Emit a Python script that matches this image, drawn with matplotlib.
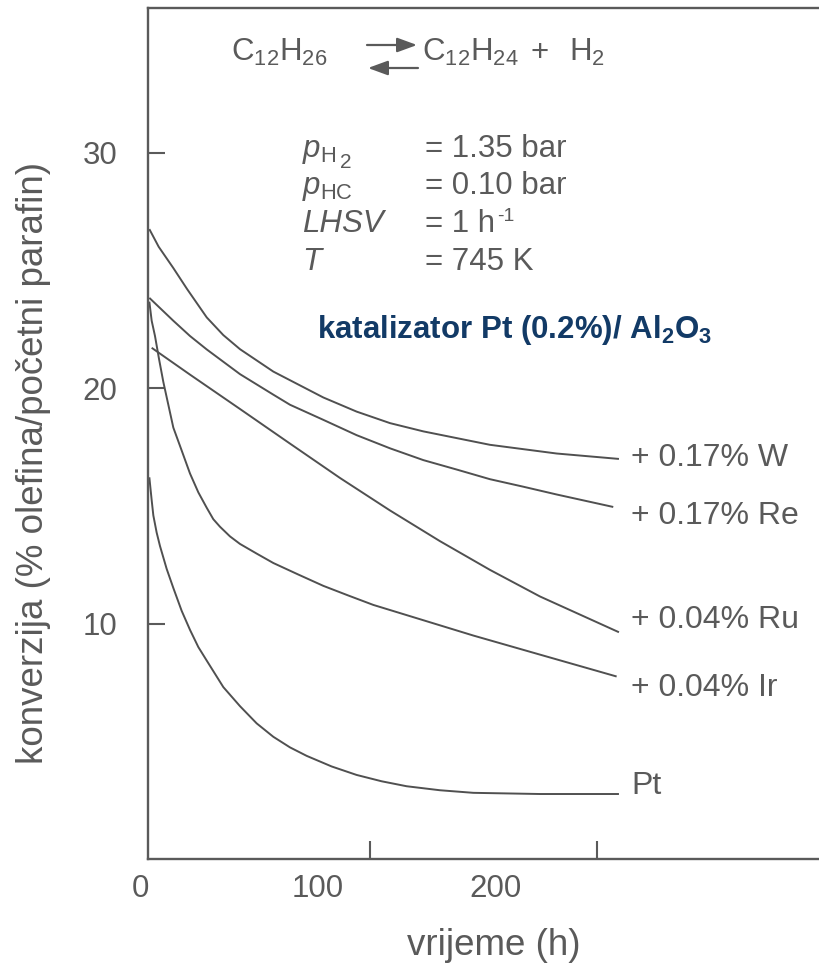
import matplotlib
matplotlib.use("Agg")
import matplotlib.pyplot as plt
from matplotlib.transforms import ScaledTranslation
from matplotlib.ticker import FixedLocator

plt.rcParams['font.family'] = ['Liberation Sans', 'DejaVu Sans']
plt.rcParams['mathtext.fontset'] = 'custom'
plt.rcParams['mathtext.rm'] = 'Liberation Sans'
plt.rcParams['mathtext.it'] = 'Liberation Sans:italic'
plt.rcParams['mathtext.bf'] = 'Liberation Sans:bold'

# ---------------- data (time in h, conversion in %) ----------------
t_W = [0.75, 6.0, 14.2, 22.0, 33.0, 42.3, 51.7, 70.4, 98.5, 117.2, 136, 154.7, 192.1, 229.6, 264.6]
y_W = [26.75, 26.0, 25.1, 24.2, 23.0, 22.25, 21.65, 20.7, 19.6, 19.0, 18.51, 18.16, 17.59, 17.22, 16.99]

t_Re = [0.75, 14.2, 23.6, 33, 51.7, 70.4, 79.8, 98.5, 117.2, 136, 154.7, 173.4, 192.1, 210.9, 229.6, 261.4]
y_Re = [23.83, 22.86, 22.21, 21.64, 20.59, 19.72, 19.29, 18.65, 18.0, 17.44, 16.94, 16.54, 16.13, 15.81, 15.48, 14.95]

t_Ru = [2.06, 23.6, 51.7, 79.8, 107.9, 136, 164, 192.1, 220.2, 264.6]
y_Ru = [21.71, 20.57, 19.11, 17.64, 16.18, 14.8, 13.5, 12.28, 11.15, 9.63]

t_Ir = [0.75, 2.06, 3.93, 6.18, 8.61, 11.42, 14.23, 18.91, 23.6, 28.28, 32.96, 36.7, 40.45,
        46.07, 51.69, 61.05, 70.41, 84.46, 98.5, 112.55, 126.6, 154.7, 182.77, 220.2, 263.3]
y_Ir = [23.67, 22.86, 22.21, 21.24, 20.26, 19.29, 18.32, 17.35, 16.37, 15.57, 14.92, 14.43, 14.11,
        13.7, 13.38, 12.97, 12.57, 12.08, 11.6, 11.19, 10.79, 10.14, 9.49, 8.68, 7.75]

t_Pt = [0.75, 2.06, 3.0, 4.87, 6.74, 10.49, 14.23, 18.91, 23.6, 28.28, 32.96, 42.32, 51.69,
        61.05, 70.41, 79.78, 89.14, 103.18, 117.2, 131.3, 145.3, 164.0, 182.8, 220.2, 264.6]
y_Pt = [16.21, 15.24, 14.59, 13.86, 13.29, 12.32, 11.51, 10.54, 9.73, 9.0, 8.43, 7.3, 6.49,
        5.76, 5.19, 4.74, 4.38, 3.93, 3.57, 3.3, 3.09, 2.92, 2.81, 2.76, 2.76]

series_labels = ['+ 0.17% W', '+ 0.17% Re', '+ 0.04% Ru', '+ 0.04% Ir', 'Pt']
x_ticks = [0, 100, 200]
x_ticklabels = ['0', '100', '200']
x_marks = [125, 252]
y_ticks = [10, 20, 30]
y_ticklabels = ['10', '20', '30']

GRAY = '#5a5a5a'
LINE = '#505050'
BLUE = '#123a66'

W, H = 819, 965
fig = plt.figure(figsize=(W / 100, H / 100), dpi=100)
ax = fig.add_axes([148 / W, 1 - 859 / H, (W - 148) / W, (859 - 8) / H])


def P(px, py):
    return (px / W, 1 - py / H)


for t, y in [(t_W, y_W), (t_Re, y_Re), (t_Ru, y_Ru), (t_Ir, y_Ir), (t_Pt, y_Pt)]:
    ax.plot(t, y, color=LINE, lw=1.4, solid_capstyle='butt', solid_joinstyle='round')

ax.set_xlim(0, 377)
ax.set_ylim(0, 36.14)

for s in ['left', 'bottom', 'top']:
    ax.spines[s].set_color(GRAY)
    ax.spines[s].set_linewidth(1.7)
ax.spines['right'].set_visible(False)

ax.set_xticks(x_ticks)
ax.set_xticklabels(x_ticklabels)
ax.xaxis.set_minor_locator(FixedLocator(x_marks))
ax.tick_params(axis='x', which='major', length=0, pad=11, labelsize=22.5, labelcolor=GRAY)
ax.tick_params(axis='x', which='minor', direction='in', length=13, width=1.5, color=GRAY)
for lab in ax.get_xticklabels():
    lab.set_transform(lab.get_transform() + ScaledTranslation(-8 / 100, 0, fig.dpi_scale_trans))

ax.set_yticks(y_ticks)
ax.set_yticklabels(y_ticklabels)
ax.tick_params(axis='y', which='major', direction='in', length=12, width=1.5, color=GRAY,
               pad=22, labelsize=22.5, labelcolor=GRAY)

# axis labels
fig.text(*P(494, 955), 'vrijeme (h)', ha='center', va='baseline', fontsize=26.5, color=GRAY)
fig.text(*P(34, 463), 'konverzija (% olefina/početni parafin)', ha='center', va='center',
         rotation=90, fontsize=26.5, color=GRAY)

# reaction
fig.text(*P(231, 61), r'C$_{12}$H$_{26}$', ha='left', va='baseline', fontsize=22.5, color=GRAY)
fig.text(*P(422, 61), r'C$_{12}$H$_{24}$', ha='left', va='baseline', fontsize=22.5, color=GRAY)
fig.text(*P(531, 61), '+', ha='left', va='baseline', fontsize=22.5, color=GRAY)
fig.text(*P(569, 61), r'H$_{2}$', ha='left', va='baseline', fontsize=22.5, color=GRAY)
arrow_kw = dict(arrowstyle='-|>,head_length=0.6,head_width=0.22', color=GRAY, lw=1.6,
                shrinkA=0, shrinkB=0, mutation_scale=20)
ax.annotate('', xy=(417, H - 45), xytext=(367, H - 45), xycoords='figure pixels',
            textcoords='figure pixels', arrowprops=arrow_kw, annotation_clip=False)
ax.annotate('', xy=(368, H - 68), xytext=(418, H - 68), xycoords='figure pixels',
            textcoords='figure pixels', arrowprops=arrow_kw, annotation_clip=False)

# conditions
cond_left = [r'$p_{\mathrm{H}}$', r'$p_{\mathrm{HC}}$', 'LHSV', 'T']
cond_right = ['= 1.35 bar', '= 0.10 bar', '= 1 h', '= 745 K']
baselines = [157, 194, 232, 270]
for l, r, b in zip(cond_left, cond_right, baselines):
    fig.text(*P(302, b), l, ha='left', va='baseline', fontsize=22.5, color=GRAY,
             style='italic')
    fig.text(*P(425, b), r, ha='left', va='baseline', fontsize=22.5, color=GRAY)
fig.text(*P(340, 168), '2', ha='left', va='baseline', fontsize=15, color=GRAY)
fig.text(*P(497, 221), '-1', ha='left', va='baseline', fontsize=14, color=GRAY)

fig.text(*P(317, 338), r'katalizator Pt (0.2%)/ Al$_{\mathbf{2}}$O$_{\mathbf{3}}$',
         ha='left', va='baseline', fontsize=22.5, color=BLUE, fontweight='bold')

# curve labels
label_baselines = [466, 524, 628, 696, 794]
for lab, b in zip(series_labels, label_baselines):
    fig.text(*P(631, b), lab, ha='left', va='baseline', fontsize=23, color=GRAY)

fig.savefig('out.png', dpi=100)
